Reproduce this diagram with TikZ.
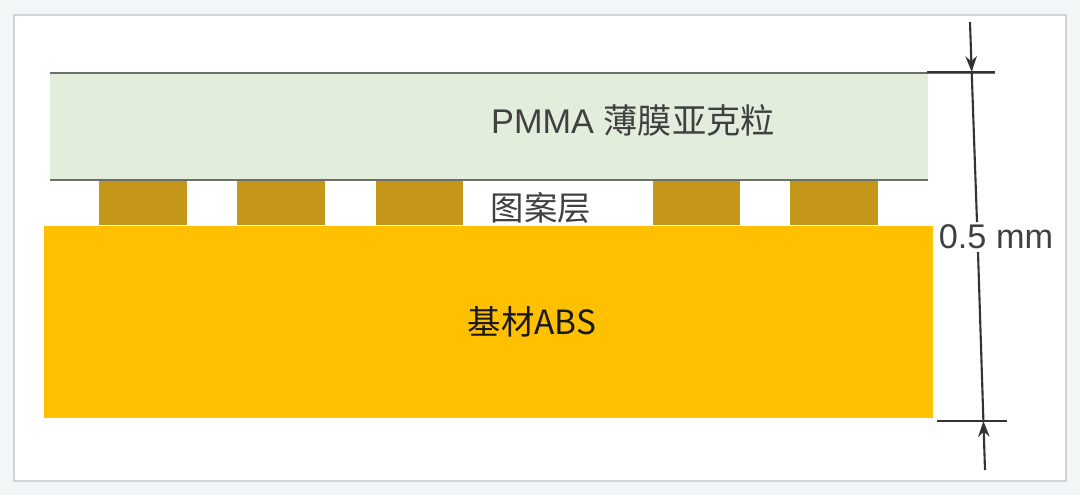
\documentclass[tikz,border=0pt]{standalone}
\usepackage{fontspec}
\setmainfont{Liberation Sans}
\newfontfamily\cjk{Noto Sans CJK SC}
\usepackage{xcolor}
\usetikzlibrary{arrows.meta}

\definecolor{filmgreen}{HTML}{E2EDDB}
\definecolor{patbrown}{HTML}{C4971A}
\definecolor{absyellow}{HTML}{FFC000}
\definecolor{edgegray}{HTML}{6A716C}
\definecolor{framegray}{HTML}{CDD4D7}
\definecolor{pagegray}{HTML}{F3F6F7}

\begin{document}
\begin{tikzpicture}[x=0.02cm,y=-0.02cm,>={Stealth[length=9pt,width=6.5pt]},
    layer/.style={rectangle,inner sep=0pt,outer sep=0pt},
    film/.style={layer,fill=filmgreen,minimum width=17.56cm,minimum height=2.12cm},
    pattern block/.style={layer,fill=patbrown,minimum width=1.76cm,minimum height=0.88cm},
    base/.style={layer,fill=absyellow,minimum width=17.78cm,minimum height=3.84cm},
    label text/.style={inner sep=0pt,font=\fontsize{19.5}{21}\selectfont,text=black!75},
    dim line/.style={line width=1.2pt,draw=black!80},
    edge line/.style={line width=1.6pt,draw=edgegray}]
            % page and frame
            \fill[pagegray] (0,0) rectangle (1080,495);
            \draw[framegray,fill=white,line width=0.8pt] (14,15) rectangle (1066,481);

            % layers
            \node[film] (pmma) at (489,127) {};
            \node[base] (abs) at (488.5,322) {};
            \foreach \i/\x in {1/143,2/281,3/419.5,4/696.5,5/834}
                \node[pattern block] (p\i) at (\x,203) {};

            % edges of the film
            \coordinate (ftl) at (50,73);
            \coordinate (ftr) at (995,73);
            \coordinate (fbl) at (50,180);
            \coordinate (fbr) at (928,180);
            \draw[edge line] (ftl) -- (ftr);
            \draw[edge line] (fbl) -- (fbr);

            % texts
            \node[label text] (pmmatext) at (633,120) {PMMA {\cjk 薄膜亚克粒}};
            \node[label text,font=\fontsize{19}{21}\selectfont] (pattext) at (541,208) {\cjk 图案层};
            \node[label text,font=\fontsize{19}{21}\selectfont,text=black!90] (abstext) at (532,322) {\cjk 基材ABS};

            % dimension
            \coordinate (top) at (970,22);
            \coordinate (ttop) at (971.7,72);
            \coordinate (gapT) at (977,222);
            \coordinate (gapB) at (978,252);
            \coordinate (tbot) at (983.4,421);
            \coordinate (bot) at (985,470);
            \coordinate (tickTl) at (927,72);
            \coordinate (tickTr) at (995,72);
            \coordinate (tickBl) at (937,421);
            \coordinate (tickBr) at (1007,421);
            \node[label text,font=\fontsize{19.5}{21}\selectfont] (dim) at (996,237) {0.5 mm};

            \path[dim line]
                (top) edge [->] (ttop)
                (ttop) edge (gapT)
                (gapB) edge (tbot)
                (bot) edge [->] (tbot)
                (tickTl) edge (tickTr)
                (tickBl) edge (tickBr)
             ;
         \end{tikzpicture}
\end{document}
